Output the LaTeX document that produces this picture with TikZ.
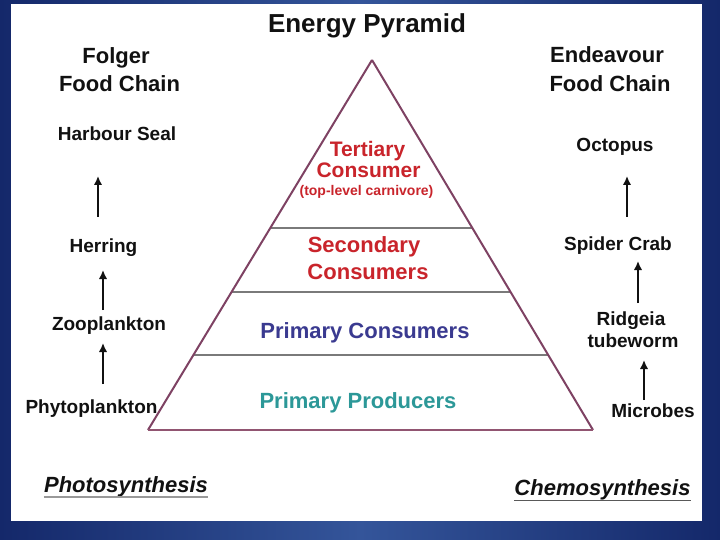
\documentclass[tikz,border=0pt]{standalone}
\usepackage{fontspec}
\setmainfont{Liberation Sans}
\usetikzlibrary{arrows.meta,calc}
\definecolor{navy}{HTML}{14286A}
\definecolor{navymid}{HTML}{34559A}
\definecolor{edge}{HTML}{7E4263}
\definecolor{divl}{HTML}{7A7A7A}
\definecolor{tred}{HTML}{C9242B}
\definecolor{tblue}{HTML}{3A3A90}
\definecolor{tteal}{HTML}{2C9898}
\definecolor{ink}{HTML}{111111}
\tikzset{
  lbl/.style={anchor=base,inner sep=0pt,text=ink,font=\bfseries\fontsize{19}{22}\selectfont},
  head/.style={anchor=base,inner sep=0pt,text=ink,font=\bfseries\fontsize{22}{26}\selectfont},
  lvl/.style={anchor=base,inner sep=0pt,font=\bfseries\fontsize{22}{26}\selectfont},
  proc/.style={anchor=base,inner sep=0pt,text=ink,font=\bfseries\itshape\fontsize{22}{26}\selectfont},
  chain/.style={draw=ink,line width=2.3pt,-{Latex[length=9pt,width=8.5pt]}},
  pyr/.style={draw=edge,line width=2pt,line join=miter},
  divider/.style={draw=divl,line width=1.3pt}
}
\begin{document}
\begin{tikzpicture}[x=1pt,y=-1pt]
\useasboundingbox (0,0) rectangle (720,540);
% background frame
\shade[left color=navy,right color=navy,middle color=navymid] (0,0) rectangle (720,540);
\fill[white] (11,4) rectangle (702,521);
% title
\node[anchor=base,inner sep=0pt,text=ink,font=\bfseries\fontsize{26}{30}\selectfont] (title) at (367,33) {Energy Pyramid};
% pyramid
\coordinate (apex) at (372,60);
\coordinate (bl) at (148,430);
\coordinate (br) at (593,430);
\fill[white] (apex) -- (bl) -- (br) -- cycle;
\coordinate (d1l) at ($(apex)!0.454!(bl)$);
\coordinate (d1r) at ($(apex)!0.454!(br)$);
\coordinate (d2l) at ($(apex)!0.627!(bl)$);
\coordinate (d2r) at ($(apex)!0.627!(br)$);
\coordinate (d3l) at ($(apex)!0.797!(bl)$);
\coordinate (d3r) at ($(apex)!0.797!(br)$);
\draw[divider] (d1l) -- (d1r);
\draw[divider] (d2l) -- (d2r);
\draw[divider] (d3l) -- (d3r);
\draw[pyr] (apex) -- (bl);
\draw[pyr] (apex) -- (br);
\draw[draw=edge!85!pink,line width=2.6pt] (bl) -- (br);
% level texts
\node[lvl,text=tred,font=\bfseries\fontsize{21}{25}\selectfont] (ter1) at (367.5,157) {Tertiary};
\node[lvl,text=tred,font=\bfseries\fontsize{21}{25}\selectfont] (ter2) at (368.5,178) {Consumer};
\node[lvl,text=tred,font=\bfseries\fontsize{14}{16}\selectfont] (ter3) at (366.5,196) {(top-level carnivore)};
\node[lvl,text=tred] (sec1) at (364,252) {Secondary};
\node[lvl,text=tred] (sec2) at (368,279) {Consumers};
\node[lvl,text=tblue] (pc) at (365,338) {Primary Consumers};
\node[lvl,text=tteal] (pp) at (358,408) {Primary Producers};
% left chain
\node[head] (fol1) at (116,64) {Folger};
\node[head] (fol2) at (119.5,92) {Food Chain};
\node[lbl] (seal) at (117,141) {Harbour Seal};
\node[lbl] (herring) at (103.5,252) {Herring};
\node[lbl] (zoo) at (109,330) {Zooplankton};
\node[lbl] (phyto) at (91.5,413) {Phytoplankton};
\coordinate (la1s) at (98,217); \coordinate (la1e) at (98,176);
\coordinate (la2s) at (103,310); \coordinate (la2e) at (103,270);
\coordinate (la3s) at (103,384); \coordinate (la3e) at (103,343);
\draw[chain] (la1s) -- (la1e);
\draw[chain] (la2s) -- (la2e);
\draw[chain] (la3s) -- (la3e);
% right chain
\node[head] (end1) at (607,63) {Endeavour};
\node[head] (end2) at (610,92) {Food Chain};
\node[lbl] (octo) at (615,152) {Octopus};
\node[lbl] (crab) at (618,250) {Spider Crab};
\node[lbl] (rid1) at (631,325) {Ridgeia};
\node[lbl] (rid2) at (633,347) {tubeworm};
\node[lbl] (mic) at (653,417) {Microbes};
\coordinate (ra1s) at (627,217); \coordinate (ra1e) at (627,176);
\coordinate (ra2s) at (638,303); \coordinate (ra2e) at (638,261);
\coordinate (ra3s) at (644,400); \coordinate (ra3e) at (644,360);
\draw[chain] (ra1s) -- (ra1e);
\draw[chain] (ra2s) -- (ra2e);
\draw[chain] (ra3s) -- (ra3e);
% processes
\node[proc] (photo) at (126,492) {Photosynthesis};
\node[proc] (chemo) at (602.5,495) {Chemosynthesis};
\draw[draw=gray!80,line width=1.6pt] ($(photo.base west)+(0,5)$) -- ($(photo.base east)+(0,5)$);
\draw[draw=gray!70!black,line width=1pt] ($(chemo.base west)+(0,5)$) -- ($(chemo.base east)+(0,5)$);
\end{tikzpicture}
\end{document}
